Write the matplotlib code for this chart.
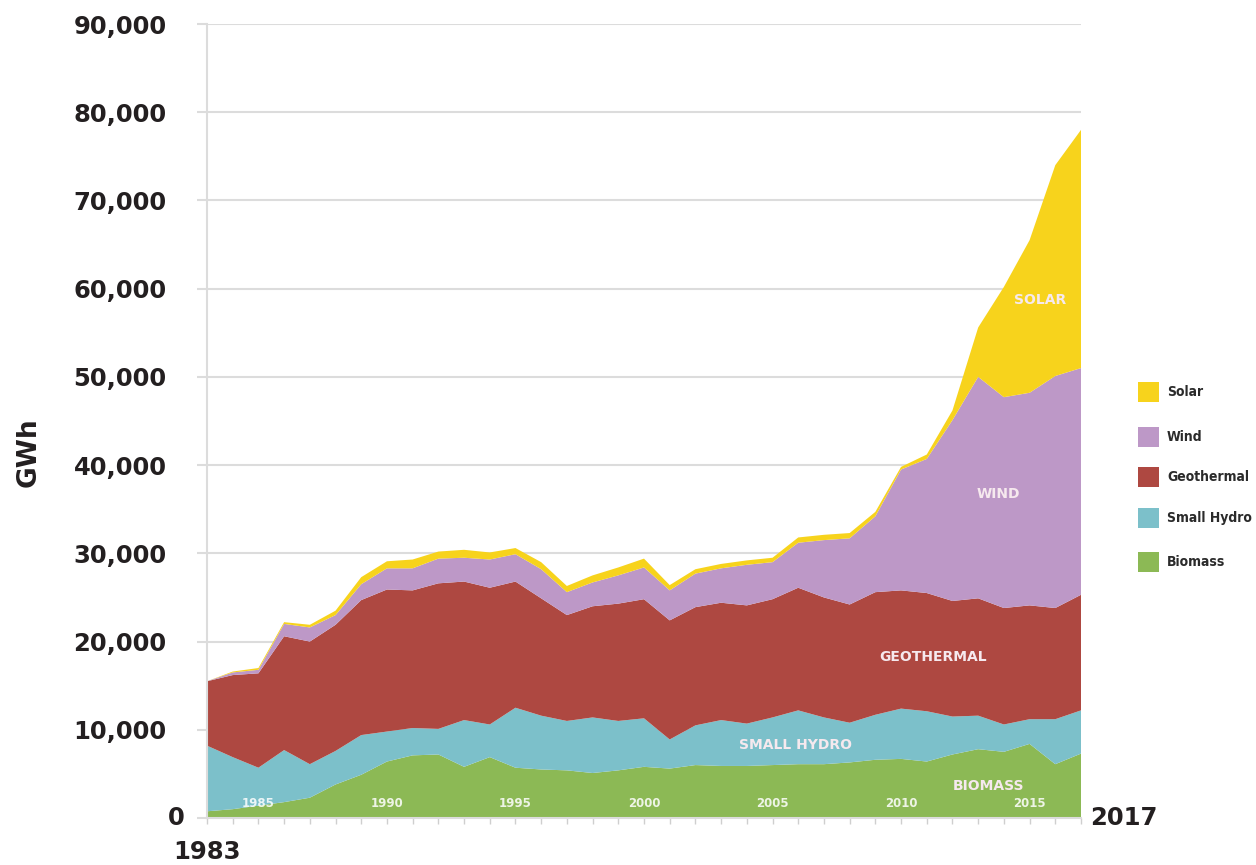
import matplotlib
matplotlib.use("Agg")
import numpy as np
import matplotlib.pyplot as plt
from matplotlib.patches import Rectangle

years = np.arange(1983, 2018)

biomass = [760, 1000, 1400, 1800, 2300, 3800, 4900, 6400, 7100, 7200,
           5800, 6900, 5700, 5500, 5400, 5100, 5400, 5800, 5600, 6000,
           5900, 5900, 6000, 6100, 6100, 6300, 6600, 6700, 6400, 7200,
           7800, 7500, 8400, 6100, 7300]
small_hydro = [7440, 5900, 4300, 5900, 3800, 3800, 4500, 3400, 3100, 2900,
               5300, 3700, 6800, 6100, 5600, 6300, 5600, 5500, 3300, 4500,
               5200, 4800, 5400, 6100, 5300, 4500, 5100, 5700, 5700, 4300,
               3800, 3100, 2800, 5100, 4900]
geothermal = [7300, 9300, 10700, 12900, 13900, 14300, 15300, 16100, 15600, 16500,
              15700, 15500, 14300, 13300, 12000, 12600, 13300, 13500, 13500, 13400,
              13300, 13400, 13400, 13900, 13600, 13400, 13900, 13400, 13400, 13100,
              13300, 13200, 12900, 12600, 13100]
wind = [0, 300, 400, 1400, 1600, 1100, 1800, 2400, 2500, 2800,
        2700, 3200, 3100, 3300, 2600, 2700, 3200, 3600, 3400, 3800,
        3900, 4600, 4200, 5100, 6500, 7500, 8600, 13700, 15200, 20500,
        25100, 23900, 24100, 26300, 25700]
solar = [0, 100, 200, 200, 300, 500, 800, 800, 1000, 800,
         900, 800, 700, 800, 700, 800, 900, 1000, 600, 500,
         500, 500, 500, 600, 600, 600, 500, 300, 500, 1100,
         5600, 12500, 17300, 23900, 27000]

series_names = ["Biomass", "Small Hydro", "Geothermal", "Wind", "Solar"]
series_colors = ["#8cb955", "#7cc0ca", "#ae4841", "#bd98c7", "#f7d31c"]
area_labels = ["BIOMASS", "SMALL HYDRO", "GEOTHERMAL", "WIND", "SOLAR"]
area_label_pos = [(2013.4, 3600), (2005.9, 8300), (2011.25, 18200),
                  (2013.8, 36700), (2015.4, 58700)]
inner_years = [1985, 1990, 1995, 2000, 2005, 2010, 2015]
y_ticks = np.arange(0, 90001, 10000)

W, H = 1256, 865
fig = plt.figure(figsize=(W / 100, H / 100), dpi=100)
ax = fig.add_axes([207 / W, 1 - 818 / H, (1081 - 207) / W, (818 - 24) / H])

ax.stackplot(years, biomass, small_hydro, geothermal, wind, solar,
             colors=series_colors, linewidth=0, zorder=2)

ax.set_xlim(1983, 2017)
ax.set_ylim(0, 90000)

grid_c = "#dcdcdc"
for s in ["top", "right"]:
    ax.spines[s].set_visible(False)
ax.spines["left"].set_color(grid_c)
ax.spines["left"].set_linewidth(1.5)
ax.spines["bottom"].set_color(grid_c)
ax.spines["bottom"].set_linewidth(1.5)

ax.yaxis.grid(True, color=grid_c, linewidth=1.5, zorder=0)
ax.set_axisbelow(True)
ax.set_yticks(y_ticks)
ax.set_yticklabels([""] + [f"{v:,}" for v in y_ticks[1:]],
                   fontsize=17.5, fontweight="bold", color="#231f20")
ax.yaxis.set_tick_params(length=7, width=1.5, color=grid_c, pad=22)

ax.set_xticks(years)
ax.set_xticklabels([])
ax.xaxis.set_tick_params(length=4, width=1, color="#cfcfcf")

# endpoint labels
ax.text(-22 / (1081 - 207), 0, "0", transform=ax.transAxes, ha="right", va="center",
        fontsize=17.5, fontweight="bold", color="#231f20")
ax.text(1983, -3900, "1983", ha="center", va="center", fontsize=17.5,
        fontweight="bold", color="#231f20", clip_on=False)
ax.text(2017.35, 0, "2017", ha="left", va="center", fontsize=17.5,
        fontweight="bold", color="#231f20", clip_on=False)

for yr in inner_years:
    ax.text(yr, 1700, str(yr), ha="center", va="center", fontsize=8.5,
            fontweight="bold", color="white", alpha=0.85, zorder=5)

for txt, (x, y) in zip(area_labels, area_label_pos):
    ax.text(x, y, txt, ha="center", va="center", fontsize=10,
            fontweight="bold", color="#f6e9ee", zorder=5)

fig.text(29 / W, 1 - 452 / H, "GWh", rotation=90, ha="center", va="center",
         fontsize=19, fontweight="bold", color="#231f20")

# legend (top to bottom: Solar ... Biomass)
rows_y = [392, 437, 477, 518, 562]
for (name, col), ry in zip(list(zip(series_names, series_colors))[::-1], rows_y):
    fig.add_artist(Rectangle((1138 / W, 1 - (ry + 10) / H), 21 / W, 20 / H,
                             transform=fig.transFigure, color=col, linewidth=0))
    fig.text(1167 / W, 1 - ry / H, name, ha="left", va="center", fontsize=10,
             fontweight="bold", fontstretch="condensed", color="#2b2b2b",
             family=["DejaVu Sans"])

fig.savefig("out.png", dpi=100, facecolor="white")
